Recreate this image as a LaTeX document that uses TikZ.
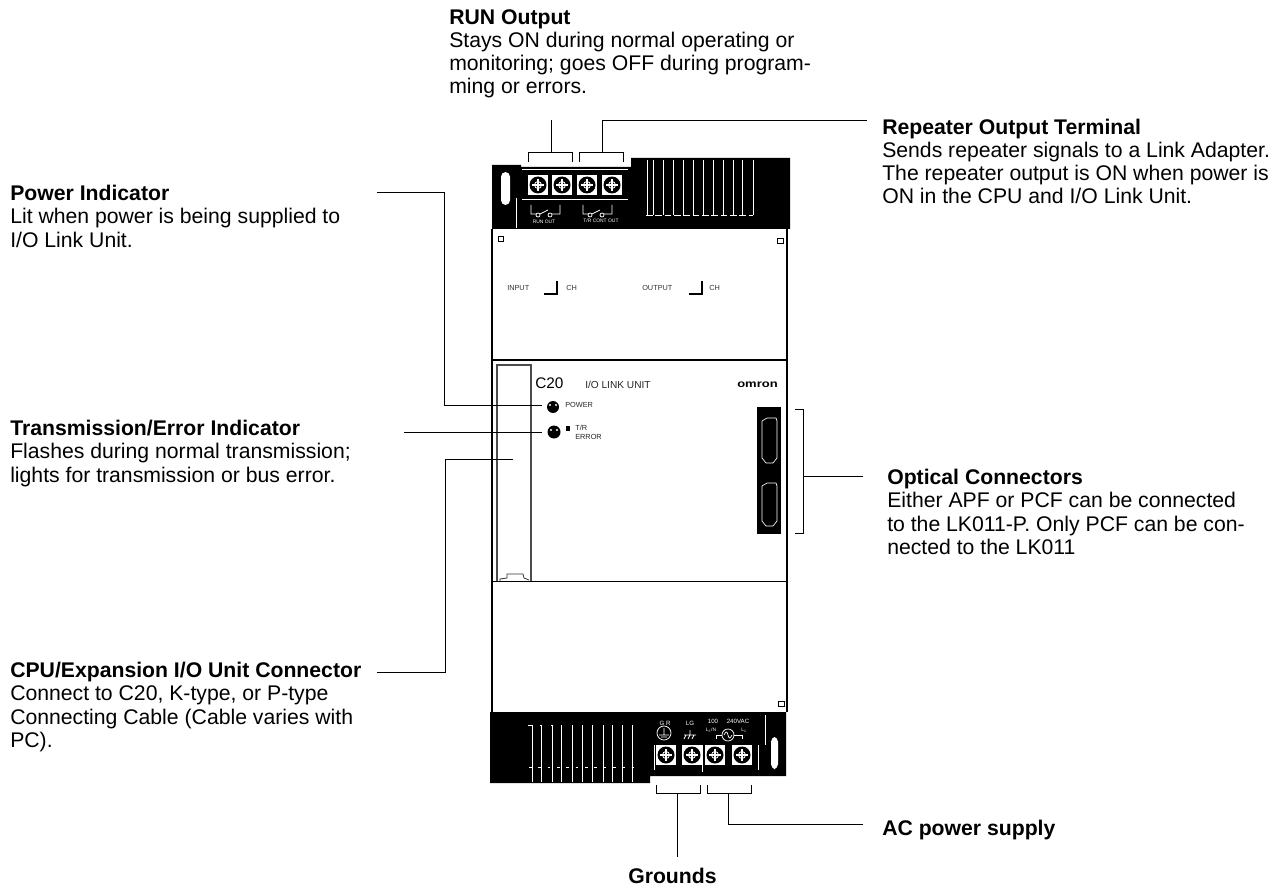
\documentclass[tikz,border=0pt]{standalone}
\usepackage{fontspec}
\setmainfont{Liberation Sans}
\tikzset{
 x=0.75pt,y=-0.75pt,
 lbl/.style={anchor=north west,inner sep=0pt,align=left,font=\fontsize{15.9pt}{17.4pt}\selectfont},
 lead/.style={draw=black,line width=0.75pt},
 edge/.style={draw=black,line width=0.9pt},
 tiny/.style={inner sep=0pt,font=\fontsize{5.5pt}{6pt}\selectfont},
 micro/.style={inner sep=0pt,font=\fontsize{3.7pt}{4.2pt}\selectfont},
 small/.style={inner sep=0pt,font=\fontsize{7.6pt}{8.5pt}\selectfont},
 vent/.style={draw=white,line width=0.55pt},
 wl/.style={draw=white,line width=0.55pt},
}
\newcommand{\screw}[2]{%
 \fill[white] (#1-10,#2-10) rectangle (#1+10,#2+10);
 \fill[black] (#1,#2) circle[radius=8.5];
 \draw[white,line width=1.1pt] (#1-6,#2) -- (#1+6,#2) (#1,#2-6) -- (#1,#2+6);
 \draw[white,line width=.6pt] (#1,#2) circle[radius=3.5];
}
\newcommand{\capsule}[4]{\fill[white,rounded corners=3.5pt] (#1,#2) rectangle (#3,#4);}
\begin{document}
\begin{tikzpicture}
\useasboundingbox (0,0) rectangle (1286,888);
\fill[white] (0,0) rectangle (1286,888);
% top band
\fill[black] (492,165) -- (521,165) -- (521,167) -- (631,167) -- (631,158) -- (790,158) -- (790,229) -- (492,229) -- cycle;
\capsule{501}{172}{510}{205}
\draw[wl] (516,198) -- (516,228);
\foreach \x in {647,653,663,673,683,693,703,713,723,733,742,753}{\draw[vent] (\x,160) -- (\x,215);}
\draw[vent,dash pattern=on 5pt off 2pt] (646,215) -- (753,215);
\screw{538}{185} \screw{562}{185} \screw{587}{185} \screw{612}{185}
\fill[black] (549.5,170) rectangle (550.5,199) (574,170) rectangle (575,199) (599,170) rectangle (600,199);
\draw[wl] (522,169) -- (628,169) (522,199) -- (628,199);
\foreach \d in {0,52}{
 \draw[wl] ({531+\d},205) -- ({531+\d},214) -- ({536+\d},214) ({540+\d},214) -- ({548+\d},210) ({552+\d},214) -- ({560+\d},214) -- ({560+\d},205);
 \draw[wl] ({538+\d},215) circle[radius=2] ({550+\d},215) circle[radius=2];
}
\node[micro,text=white] (runlab) at (544,222) {RUN OUT};
\node[micro,text=white] (contlab) at (601,221) {T/R CONT OUT};
% body
\draw[edge] (492,229) -- (492,712) (787,229) -- (787,712);
\draw[edge] (492,360) -- (787,360) (492,581.7) -- (787,581.7);
\draw[line width=.7pt] (498,236) rectangle (503,241) (777,238) rectangle (783,243);
\draw[line width=.7pt] (778,701) rectangle (784,706);
\node[tiny,anchor=west,text=black!80] (inlab) at (507,288) {INPUT};
\draw[line width=.8pt] (544,294) -- (557,294) -- (557,281);
\node[tiny,anchor=west,text=black!80] (ch1) at (566,288) {CH};
\node[tiny,anchor=west,text=black!80] (outlab) at (642,288) {OUTPUT};
\draw[line width=.8pt] (689,294) -- (702,294) -- (702,281);
\node[tiny,anchor=west,text=black!80] (ch2) at (709,288) {CH};
% slot
\draw[black!70,line width=.8pt] (497,581) -- (497,365) -- (531,365) -- (531,581);
\draw[black!80,line width=.6pt] (500,581) -- (500,579) -- (507,578) -- (507,574) -- (523,574) -- (524,578) -- (529,580);
\node[inner sep=0pt,anchor=west,font=\fontsize{11.5pt}{12pt}\selectfont] (c20) at (535,383) {C20};
\node[small,anchor=west,text=black!85] (iolink) at (585,385) {I/O LINK UNIT};
\node[inner sep=0pt,anchor=east,font=\fontsize{7.8pt}{8pt}\bfseries\selectfont] (omron) at (778,385) {\scalebox{1.25}[1]{omron}};
\fill (553,407) circle[radius=6]; \fill[white] (550,405) circle[radius=1.2] (556,405) circle[radius=1.2];
\node[tiny,anchor=west,text=black!85] (powerlab) at (565,405) {POWER};
\fill (554,432) circle[radius=6.5]; \fill[white] (551,430) circle[radius=1.2] (557,430) circle[radius=1.2];
\fill (566,426) rectangle (570,431);
\node[tiny,anchor=west,text=black!85] (trlab) at (575,428) {T/R};
\node[tiny,anchor=west,text=black!85] (errlab) at (575,437) {ERROR};
% optical
\fill[black] (757,407) rectangle (781,534);
\draw[white,line width=.5pt] (762,421) -- (767,418) -- (776,418) -- (777,421) -- (777,458) -- (773,463) -- (766,463) -- (762,458) -- cycle;
\draw[white,line width=.5pt] (762,486) -- (767,483) -- (776,483) -- (777,486) -- (777,521) -- (773,526) -- (766,526) -- (762,521) -- cycle;
% bottom band
\fill[black] (490,712) -- (786,712) -- (786,776) -- (650,776) -- (650,783) -- (490,783) -- cycle;
\foreach \x in {532,541,552,561,572,582,592,603,612,622,632}{\draw[vent] (\x,725) -- (\x,782);}
\draw[vent,dash pattern=on 2pt off 5pt] (529,767) -- (634,767);
\draw[vent] (528,725) -- (532,725) (540,725) -- (541,725) (551,725) -- (552,725);
\screw{666}{755} \screw{692}{755} \screw{715}{755} \screw{742}{755}
\fill[black] (678.5,745) rectangle (679.5,765) (703,745) rectangle (704,765) (728,745) rectangle (729,765);
\draw[wl] (654,745) -- (654,770) (702,745) -- (702,772) (758,745) -- (758,770);
\capsule{771}{737}{778}{769}
\draw[wl] (765,715) -- (765,745);
\node[micro,text=white,font=\fontsize{4.6pt}{5pt}\selectfont] (gr) at (665,723) {G R};
\node[micro,text=white,font=\fontsize{4.6pt}{5pt}\selectfont] (lg) at (690,723) {LG};
\node[micro,text=white,font=\fontsize{4.6pt}{5pt}\selectfont] (v100) at (713,721) {100};
\node[micro,text=white,font=\fontsize{4.6pt}{5pt}\selectfont] (vac) at (738,721) {240VAC};
\node[micro,text=white] (ln) at (711,730) {L\textsubscript{2}/N};
\node[micro,text=white] (lo) at (744,730) {L\textsubscript{1}};
\draw[wl] (664,733) circle[radius=7] (664,728) -- (664,735) (659,735) -- (669,735) (661,737) -- (667,737);
\draw[wl] (690,730) -- (690,735) (684,735) -- (696,735) (686,735) -- (684,739) (690,735) -- (688,739) (694,735) -- (692,739);
\draw[wl] (728,735) circle[radius=6];
\draw[wl] (724,735) .. controls (726,731) and (727,731) .. (728,735) .. controls (729,739) and (730,739) .. (732,735);
\draw[wl] (716,735) -- (722,735) (734,735) -- (742,735) (716,735) -- (716,739) (742,735) -- (742,739);
% brackets and leaders
\coordinate (pw) at (542,405.7);
\coordinate (tr) at (542,432.7);
\coordinate (cpu) at (513,459.7);
\draw[lead] (528,162) -- (528,153) -- (572,153) -- (572,162);
\draw[lead] (579,162) -- (579,153) -- (623,153) -- (623,162);
\draw[lead] (551,153) -- (551,120);
\draw[lead] (602,153) -- (602,121) -- (867,121);
\draw[lead] (377,193) -- (444.5,193) -- (444.5,405.7) -- (pw);
\draw[lead] (404,432.7) -- (tr);
\draw[lead] (377,672) -- (445,672) -- (445,459.7) -- (cpu);
\draw[lead] (795,409) -- (803.5,409) -- (803.5,533) -- (795,533);
\draw[lead] (803.5,476) -- (863,476);
\draw[lead] (656,785) -- (656,793) -- (700,793) -- (700,785);
\draw[lead] (707,785) -- (707,793) -- (751,793) -- (751,785);
\draw[lead] (677,793) -- (677,857);
\draw[lead] (728,793) -- (728,824) -- (863,824);
% labels
\node[lbl] (run) at (449,9) {\textbf{RUN Output}\\Stays ON during normal operating or\\monitoring; goes OFF during program-\\ming or errors.};
\node[lbl] (rep) at (882,118.5) {\textbf{Repeater Output Terminal}\\Sends repeater signals to a Link Adapter.\\The repeater output is ON when power is\\ON in the CPU and I/O Link Unit.};
\node[lbl] (pwi) at (10,185) {\textbf{Power Indicator}\\Lit when power is being supplied to\\I/O Link Unit.};
\node[lbl] (tei) at (10,420) {\textbf{Transmission/Error Indicator}\\Flashes during normal transmission;\\lights for transmission or bus error.};
\node[lbl] (opt) at (887,469) {\textbf{Optical Connectors}\\Either APF or PCF can be connected\\to the LK011-P. Only PCF can be con-\\nected to the LK011};
\node[lbl] (cpuc) at (10,662) {\textbf{CPU/Expansion I/O Unit Connector}\\Connect to C20, K-type, or P-type\\Connecting Cable (Cable varies with\\PC).};
\node[lbl] (ac) at (882,820) {\textbf{AC power supply}};
\node[lbl] (gnd) at (628,868) {\textbf{Grounds}};
\end{tikzpicture}
\end{document}
